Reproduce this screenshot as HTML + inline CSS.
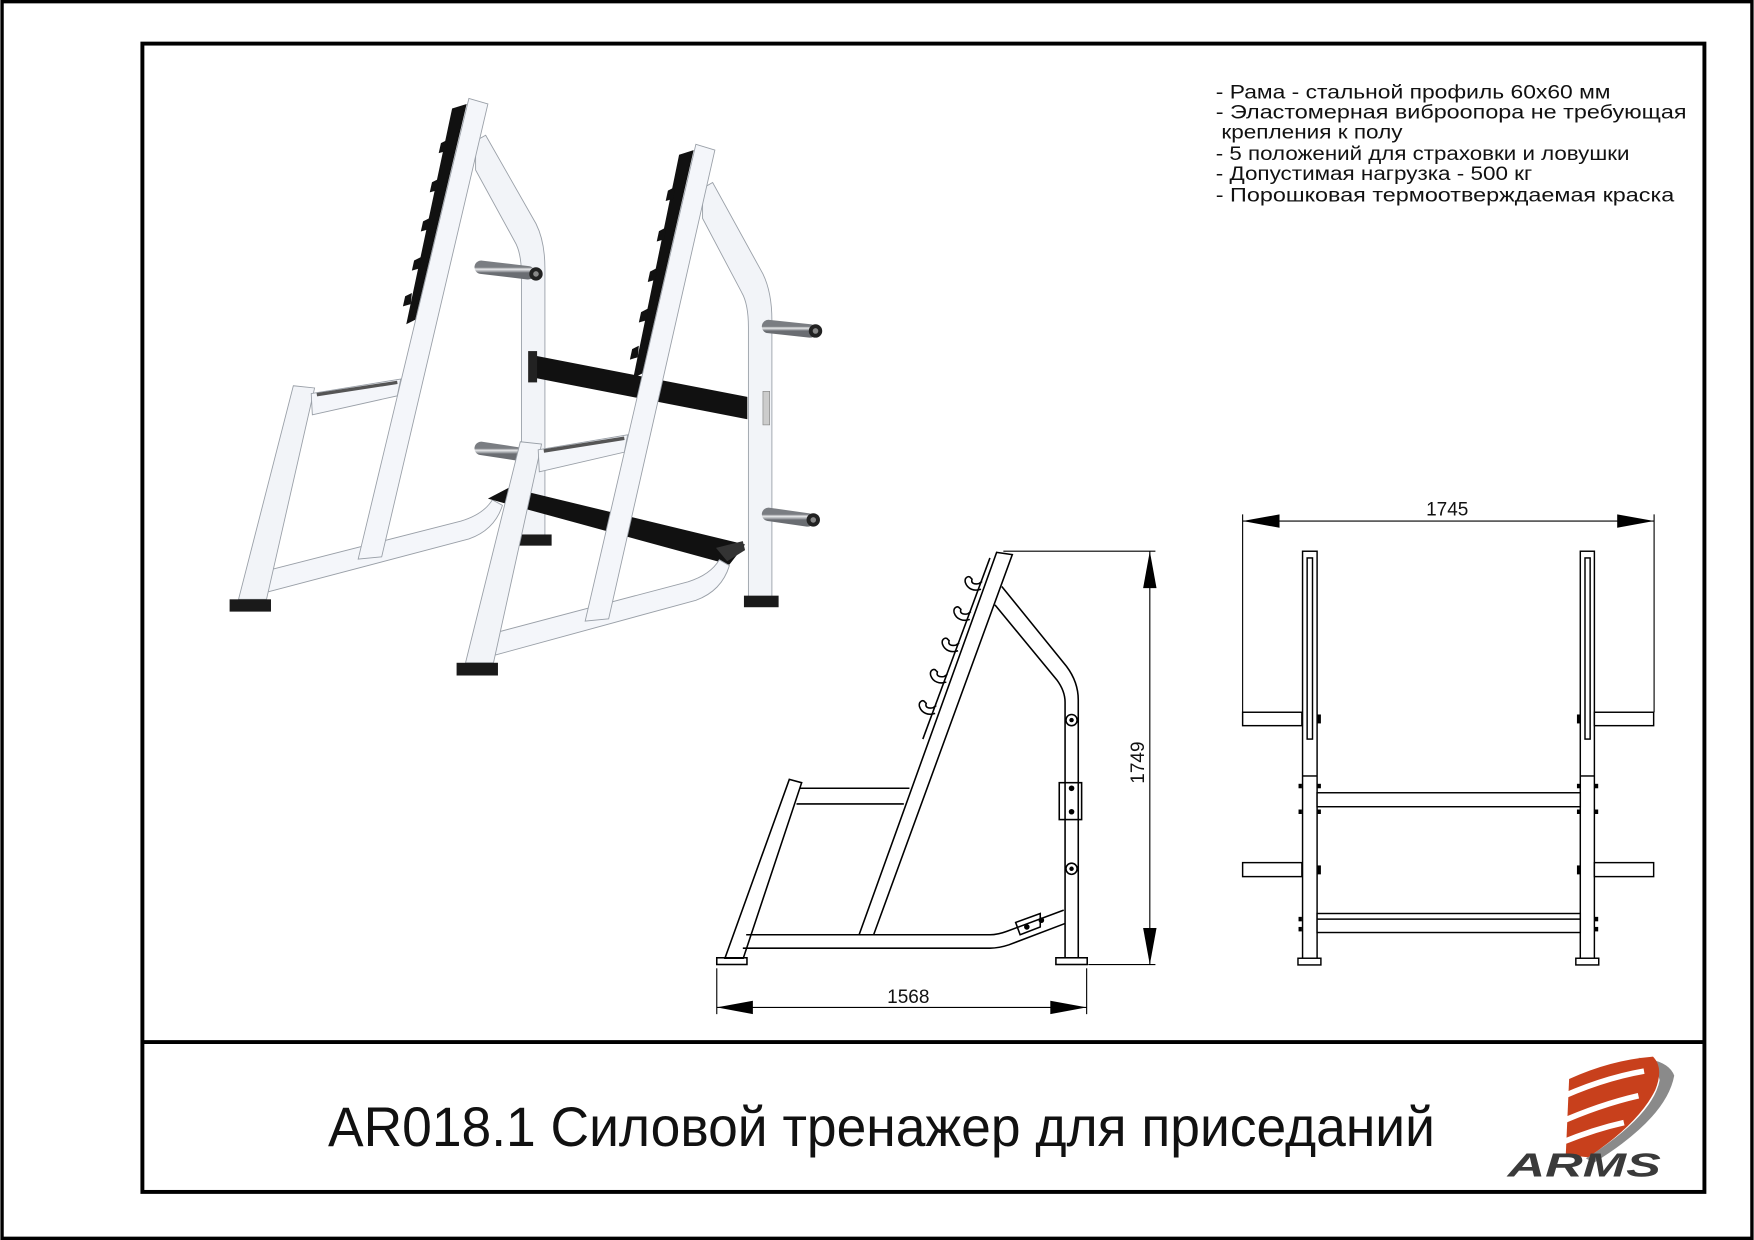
<!DOCTYPE html>
<html><head><meta charset="utf-8"><style>html,body{margin:0;padding:0;background:#fff}svg{display:block}</style></head>
<body>
<svg width="1754" height="1240" viewBox="0 0 1568 1109" xmlns="http://www.w3.org/2000/svg">
<defs>
<linearGradient id="cyl" x1="0" y1="0" x2="0" y2="1">
<stop offset="0" stop-color="#7a7d82"/><stop offset="0.35" stop-color="#e8e9eb"/><stop offset="0.7" stop-color="#a9acb0"/><stop offset="1" stop-color="#6a6d72"/>
</linearGradient>
<g id="frame">
 <path d="M425,126 L434,121 L479,200 Q487,216 487,240 L487,480 L466,480 L466,246 Q466,226 460,216 L425,152 Z" fill="#f2f4f8" stroke="#9aa0a8" stroke-width="0.8"/>
 <rect x="462" y="478" width="31" height="10" fill="#1a1a1a"/>
 <path d="M232,512 L412,466 Q432,460 440,447 L449,452 Q442,474 419,482 L237,530 Z" fill="#f4f6fa" stroke="#9aa0a8" stroke-width="0.8"/>
 <path d="M262,345 L281,347 L238,536 L213,536 Z" fill="#f2f4f8" stroke="#9aa0a8" stroke-width="0.8"/>
 <rect x="205" y="536" width="37" height="11" fill="#1a1a1a"/>
 <path d="M278,352 L358,339 L355,354 L279,371 Z" fill="#f4f6fa" stroke="#9aa0a8" stroke-width="0.8"/>
 <line x1="283" y1="353" x2="355" y2="342" stroke="#555" stroke-width="3"/>
 <path d="M419,88 L436,93 L341,498 L320,500 Z" fill="#f4f6fa" stroke="#9aa0a8" stroke-width="0.8"/>
 <path d="M404,97 L417,93 L371,286 L363,290 Z" fill="#111"/>
 <path d="M400,125 l-6,3 l-2,9 l7,-2 Z M392,160 l-6,3 l-2,9 l7,-2 Z M384,195 l-6,3 l-2,9 l7,-2 Z M376,230 l-6,3 l-2,9 l7,-2 Z M368,262 l-6,3 l-2,9 l7,-2 Z" fill="#111"/>
</g>
</defs>
<rect x="0" y="0" width="1568" height="1109" fill="#fff"/>
<rect x="1.5" y="1.5" width="1565" height="1106" fill="none" stroke="#000" stroke-width="3"/>
<rect x="127" y="39" width="1397" height="1027" fill="none" stroke="#000" stroke-width="3.5"/>
<line x1="127" y1="932" x2="1524" y2="932" stroke="#000" stroke-width="3.5"/>

<use href="#frame"/>
<line x1="430" y1="239" x2="472" y2="244" stroke="url(#cyl)" stroke-width="12" stroke-linecap="round"/>
<circle cx="479" cy="245" r="6" fill="#222"/><circle cx="479" cy="245" r="2.5" fill="#888"/>
<line x1="430" y1="401" x2="463" y2="406" stroke="url(#cyl)" stroke-width="12" stroke-linecap="round"/>
<path d="M478,318 L668,355 L668,375 L478,338 Z" fill="#111"/>
<rect x="472" y="314" width="8" height="28" fill="#222"/>
<path d="M436,446 L455,436 L666,487 L652,505 Z" fill="#111"/>
<path d="M640,490 L664,484 L666,492 L650,502 Z" fill="#333"/>
<use href="#frame" transform="translate(203,38) scale(1,1.035)"/>
<line x1="687" y1="292" x2="724" y2="296" stroke="url(#cyl)" stroke-width="12" stroke-linecap="round"/>
<circle cx="729" cy="296" r="6" fill="#222"/><circle cx="729" cy="296" r="2.5" fill="#888"/>
<line x1="687" y1="460" x2="722" y2="465" stroke="url(#cyl)" stroke-width="12" stroke-linecap="round"/>
<circle cx="727" cy="465" r="6" fill="#222"/><circle cx="727" cy="465" r="2.5" fill="#888"/>
<rect x="682" y="350" width="6" height="30" fill="#ccc" stroke="#888" stroke-width="0.6"/>

<g fill="none" stroke="#000" stroke-width="1.4">
 <path d="M891,494 L905,496 L781,836 L768,836 Z" fill="#fff"/>
 <line x1="885" y1="499" x2="825" y2="661"/>
 <path d="M895.6,524.5 L953.5,596 Q964,610 964,626 L964,857"/>
 <path d="M889.5,541 L944.8,608 Q952.2,618 952.2,628 L952.2,857"/>
 <path d="M705.6,697 L716.6,700 L664.4,857 L648,857 Z"/>
 <line x1="715" y1="705" x2="813" y2="705"/>
 <line x1="712" y1="719" x2="808" y2="719"/>
 <path d="M667,836 L768,836 M781,836 L885,836 Q892,836 900,833 L951,814"/>
 <path d="M664,848 L885,848 Q893,848 902,845 L952,826"/>
 <rect x="640.7" y="856.6" width="27" height="6"/>
 <rect x="944" y="856.6" width="28" height="6"/>
 <path d="M877,527 c-6,2 -12,0 -14,-6 c-1,-4 2,-6 4,-5 l2,2 c-1,3 1,5 6,4 l3,-2"/>
 <path d="M867,554 c-6,2 -12,0 -14,-6 c-1,-4 2,-6 4,-5 l2,2 c-1,3 1,5 6,4 l3,-2"/>
 <path d="M856.5,582 c-6,2 -12,0 -14,-6 c-1,-4 2,-6 4,-5 l2,2 c-1,3 1,5 6,4 l3,-2"/>
 <path d="M846,610 c-6,2 -12,0 -14,-6 c-1,-4 2,-6 4,-5 l2,2 c-1,3 1,5 6,4 l3,-2"/>
 <path d="M836,638 c-6,2 -12,0 -14,-6 c-1,-4 2,-6 4,-5 l2,2 c-1,3 1,5 6,4 l3,-2"/>
 <rect x="947" y="700" width="20" height="33"/>
 <circle cx="958" cy="644" r="5"/><circle cx="958" cy="777" r="5"/>
 <path d="M908,825 l22,-8 l0,12 l-18,7 Z"/>
</g>
<g fill="#000">
 <circle cx="958" cy="644" r="2"/><circle cx="958" cy="777" r="2"/>
 <circle cx="958" cy="705" r="2.5"/><circle cx="958" cy="726" r="2.5"/>
 <circle cx="918" cy="829" r="2.5"/><circle cx="931" cy="823" r="2.5"/>
</g>
<g stroke="#000" stroke-width="1" fill="none">
 <line x1="897" y1="493" x2="1033" y2="493"/>
 <line x1="973" y1="862.7" x2="1033" y2="862.7"/>
 <line x1="1028" y1="493" x2="1028" y2="862.7"/>
 <line x1="640.7" y1="866" x2="640.7" y2="907"/>
 <line x1="971.5" y1="866" x2="971.5" y2="907"/>
 <line x1="640.7" y1="901" x2="971.5" y2="901"/>
</g>
<g fill="#000">
 <path d="M1028,493 L1022,526 L1034,526 Z"/>
 <path d="M1028,862.7 L1022,830 L1034,830 Z"/>
 <path d="M640.7,901 L673,895 L673,907 Z"/>
 <path d="M971.5,901 L939,895 L939,907 Z"/>
 <path d="M1111,466 L1144,460 L1144,472 Z"/>
 <path d="M1479,466 L1446,460 L1446,472 Z"/>
</g>
<text x="812" y="897" font-family="Liberation Sans, sans-serif" font-size="17" text-anchor="middle" fill="#111">1568</text>
<text x="1023" y="682" font-family="Liberation Sans, sans-serif" font-size="17" text-anchor="middle" fill="#111" transform="rotate(-90 1023 682)">1749</text>

<g stroke="#000" stroke-width="1" fill="none">
 <line x1="1111" y1="460" x2="1111" y2="637"/>
 <line x1="1479" y1="460" x2="1479" y2="637"/>
 <line x1="1111" y1="466" x2="1479" y2="466"/>
</g>
<text x="1294" y="461" font-family="Liberation Sans, sans-serif" font-size="17" text-anchor="middle" fill="#111">1745</text>
<g stroke="#000" stroke-width="1.3" fill="#fff">
 <rect x="1164.6" y="493" width="13" height="364"/>
 <rect x="1413" y="493" width="12.6" height="364"/>
 <rect x="1168.7" y="499" width="4.8" height="162"/>
 <rect x="1417.2" y="499" width="4.6" height="162"/>
 <line x1="1164.6" y1="694" x2="1177.6" y2="694"/>
 <line x1="1413" y1="694" x2="1425.6" y2="694"/>
 <rect x="1111" y="637" width="53" height="12"/>
 <rect x="1425.6" y="637" width="53" height="12"/>
 <rect x="1111" y="771.5" width="53" height="12.5"/>
 <rect x="1425.6" y="771.5" width="53" height="12.5"/>
 <rect x="1177.6" y="709" width="235.4" height="12.5"/>
 <rect x="1177.6" y="817" width="235.4" height="17"/>
 <line x1="1177.6" y1="822" x2="1413" y2="822"/>
 <rect x="1160.5" y="857" width="20.5" height="6"/>
 <rect x="1409" y="857" width="20.5" height="6"/>
</g>
<g fill="#000">
 <rect x="1178" y="639" width="3" height="8"/><rect x="1410" y="639" width="3" height="8"/>
 <rect x="1178" y="774" width="3" height="8"/><rect x="1410" y="774" width="3" height="8"/>
 <rect x="1161" y="701" width="3" height="4"/><rect x="1161" y="724" width="3" height="4"/>
 <rect x="1178" y="701" width="3" height="4"/><rect x="1178" y="724" width="3" height="4"/>
 <rect x="1410" y="701" width="3" height="4"/><rect x="1410" y="724" width="3" height="4"/>
 <rect x="1426" y="701" width="3" height="4"/><rect x="1426" y="724" width="3" height="4"/>
 <rect x="1161" y="820" width="3" height="4"/><rect x="1161" y="829" width="3" height="4"/>
 <rect x="1426" y="820" width="3" height="4"/><rect x="1426" y="829" width="3" height="4"/>
</g>

<g font-family="Liberation Sans, sans-serif" font-size="17" fill="#111">
 <text x="1087" y="88" textLength="353" lengthAdjust="spacingAndGlyphs">- Рама - стальной профиль 60х60 мм</text>
 <text x="1087" y="106" textLength="421" lengthAdjust="spacingAndGlyphs">- Эластомерная виброопора не требующая</text>
 <text x="1092" y="124" textLength="162" lengthAdjust="spacingAndGlyphs">крепления к полу</text>
 <text x="1087" y="143" textLength="370" lengthAdjust="spacingAndGlyphs">- 5 положений для страховки и ловушки</text>
 <text x="1087" y="161" textLength="283" lengthAdjust="spacingAndGlyphs">- Допустимая нагрузка - 500 кг</text>
 <text x="1087" y="180" textLength="410" lengthAdjust="spacingAndGlyphs">- Порошковая термоотверждаемая краска</text>
</g>

<text x="293" y="1025" font-family="Liberation Sans, sans-serif" font-size="50" fill="#111" textLength="990" lengthAdjust="spacingAndGlyphs">AR018.1 Силовой тренажер для приседаний</text>

<path d="M1465,946 Q1492,948 1497,962 Q1490,1000 1425,1040 L1418,1036 Q1478,998 1484,966 Q1482,954 1465,946 Z" fill="#8a8a8a"/>
<path d="M1403,965 Q1440,948 1478,945 Q1488,955 1480,975 Q1465,1005 1420,1035 L1400,1033 Z" fill="#c8401c"/>
<g stroke="#fff" stroke-width="5" fill="none">
 <path d="M1388,985 Q1430,965 1470,958"/>
 <path d="M1392,1005 Q1430,988 1465,980"/>
 <path d="M1396,1022 Q1425,1010 1452,1004"/>
</g>
<text x="1348" y="1052" font-family="Liberation Sans, sans-serif" font-size="30" font-weight="bold" font-style="italic" fill="#3a3a3a" textLength="137" lengthAdjust="spacingAndGlyphs">ARMS</text>
</svg>
</body></html>
